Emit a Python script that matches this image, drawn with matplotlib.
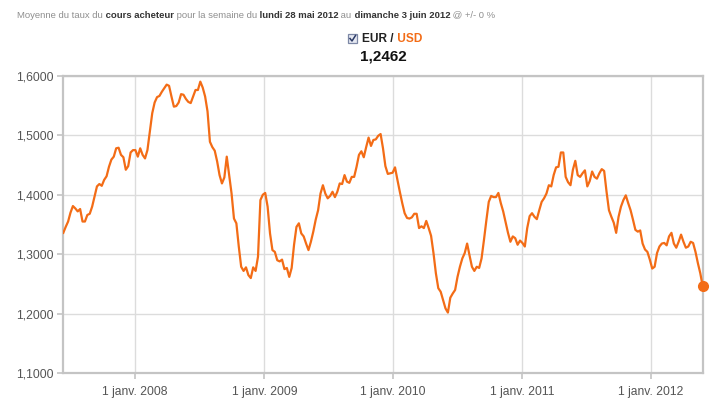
import matplotlib
matplotlib.use('Agg')
import matplotlib.pyplot as plt
from matplotlib.ticker import FuncFormatter, FixedLocator
from matplotlib.patches import Rectangle
from matplotlib.lines import Line2D
import matplotlib.dates as mdates
import pandas as pd

plt.rcParams['font.family'] = ['Liberation Sans', 'DejaVu Sans']

start_date = '2007-06-11'
end_date = '2012-05-28'

rates_2007_2009 = [
    1.336, 1.346, 1.355, 1.370, 1.381, 1.377, 1.372, 1.376, 1.355, 1.355,
    1.366, 1.368, 1.380, 1.397, 1.414, 1.418, 1.415, 1.425, 1.431, 1.447,
    1.459, 1.464, 1.478, 1.479, 1.467, 1.463, 1.442, 1.448, 1.471, 1.475,
    1.475, 1.464, 1.478, 1.467, 1.461, 1.475, 1.506, 1.537, 1.555, 1.564,
    1.566, 1.573, 1.579, 1.585, 1.583, 1.565, 1.548, 1.549, 1.555, 1.569,
    1.568, 1.561, 1.556, 1.554, 1.565, 1.576, 1.576, 1.590, 1.580, 1.565,
    1.540, 1.489, 1.480, 1.474, 1.456, 1.433, 1.419, 1.429, 1.464, 1.433,
    1.402, 1.360, 1.352, 1.313, 1.279, 1.272, 1.278, 1.265, 1.260, 1.278,
    1.272, 1.296, 1.391, 1.400, 1.403, 1.380, 1.335, 1.307, 1.304, 1.290,
    1.288, 1.291, 1.275, 1.277, 1.262, 1.277, 1.316, 1.346, 1.352, 1.335,
    1.330, 1.318, 1.307, 1.321, 1.338, 1.358, 1.374, 1.402, 1.416, 1.402,
    1.394, 1.398, 1.405, 1.396, 1.405, 1.419, 1.418, 1.433, 1.422, 1.420,
    1.430, 1.430, 1.447, 1.467, 1.473, 1.463,
]

rates_2009_2012 = [
    1.480, 1.496, 1.482, 1.492, 1.493, 1.499, 1.502, 1.478, 1.448, 1.435,
    1.436, 1.437, 1.446, 1.425, 1.405, 1.386, 1.369, 1.361, 1.360, 1.362,
    1.368, 1.368, 1.344, 1.347, 1.344, 1.356, 1.344, 1.331, 1.302, 1.268,
    1.243, 1.237, 1.223, 1.209, 1.202, 1.227, 1.234, 1.240, 1.262, 1.279,
    1.293, 1.302, 1.318, 1.298, 1.279, 1.272, 1.279, 1.277, 1.293, 1.324,
    1.357, 1.388, 1.398, 1.396, 1.396, 1.403, 1.386, 1.372, 1.354, 1.336,
    1.321, 1.330, 1.327, 1.316, 1.323, 1.319, 1.313, 1.344, 1.364, 1.369,
    1.363, 1.359, 1.374, 1.388, 1.394, 1.402, 1.416, 1.414, 1.433, 1.446,
    1.447, 1.471, 1.471, 1.430, 1.421, 1.416, 1.442, 1.457, 1.433, 1.430,
    1.436, 1.441, 1.414, 1.423, 1.439, 1.430, 1.427, 1.436, 1.443, 1.440,
    1.405, 1.374, 1.363, 1.353, 1.336, 1.363, 1.380, 1.391, 1.399, 1.386,
    1.374, 1.358, 1.341, 1.338, 1.340, 1.318, 1.308, 1.304, 1.291, 1.276,
    1.279, 1.302, 1.313, 1.318, 1.319, 1.315, 1.330, 1.336, 1.318, 1.311,
    1.321, 1.333, 1.321, 1.311, 1.313, 1.321, 1.319, 1.304, 1.285, 1.268,
    1.2462,
]

y_ticks = [1.1, 1.2, 1.3, 1.4, 1.5, 1.6]
x_tick_dates = ['2008-01-01', '2009-01-01', '2010-01-01', '2011-01-01', '2012-01-01']
x_tick_labels = ['1 janv. 2008', '1 janv. 2009', '1 janv. 2010', '1 janv. 2011', '1 janv. 2012']

header_parts = [
    ("Moyenne du taux du", False),
    (" cours acheteur", True),
    (" pour la semaine du", False),
    (" lundi 28 mai 2012", True),
    (" au", False),
    (" dimanche 3 juin 2012", True),
    (" @ +/- 0 %", False),
]
pair_base = "EUR /"
pair_quote = " USD"
last_value_label = "1,2462"

values = rates_2007_2009 + rates_2009_2012
dates = pd.date_range(start_date, end_date, periods=len(values))

W, H = 717, 411
fig = plt.figure(figsize=(W / 100, H / 100), dpi=100)
L, R, T, B = 63.3, 702.7, 75.7, 373.3
ax = fig.add_axes([L / W, 1 - B / H, (R - L) / W, (B - T) / H])

orange = '#f36c16'
ax.plot(dates, values, color=orange, lw=1.6, solid_joinstyle='round', zorder=3)
ax.plot([dates[-1]], [values[-1]], 'o', color=orange, ms=7, clip_on=False, zorder=4)

ax.set_xlim(dates[0], dates[-1])
ax.set_ylim(1.1, 1.6)
ax.yaxis.set_major_locator(FixedLocator(y_ticks))
ax.yaxis.set_major_formatter(FuncFormatter(lambda v, p: f"{v:.4f}".replace('.', ',')))
xt = [mdates.date2num(pd.Timestamp(d)) for d in x_tick_dates]
ax.set_xticks(xt)
ax.set_xticklabels(x_tick_labels)

ax.grid(True, color='#dcdcdc', lw=1.0)
ax.set_axisbelow(True)
for s in ax.spines.values():
    s.set_color('#c4c4c4')
    s.set_linewidth(1.6)
ax.tick_params(axis='both', colors='#c4c4c4', labelcolor='#555555', labelsize=8.7,
               length=4, width=1.2)
ax.tick_params(axis='y', pad=3)
ax.tick_params(axis='x', pad=5)

# header text chain
prev = None
for txt, bold in header_parts:
    kw = dict(fontsize=6.8, fontweight='bold' if bold else 'normal',
              color='#333333' if bold else '#8f8f8f')
    if prev is None:
        prev = fig.text(17 / W, 1 - 15 / H, txt, ha='left', va='center', **kw)
    else:
        prev = ax.annotate(txt, xy=(1, 0), xycoords=prev, ha='left', va='bottom',
                           annotation_clip=False, **kw)

# checkbox
cb_x, cb_y, cb_s = 348, 34, 9
fig.add_artist(Rectangle((cb_x / W, 1 - (cb_y + cb_s) / H), cb_s / W, cb_s / H,
                         transform=fig.transFigure, facecolor='#e6e9f2',
                         edgecolor='#7d88a6', lw=0.9))
fig.add_artist(Line2D([(cb_x + 2) / W, (cb_x + 4) / W, (cb_x + 7.5) / W],
                      [1 - (cb_y + 4.5) / H, 1 - (cb_y + 7) / H, 1 - (cb_y + 1.5) / H],
                      transform=fig.transFigure, color='#2b3a66', lw=1.1))

t1 = fig.text(362 / W, 1 - 38.5 / H, pair_base, ha='left', va='center',
              fontsize=8.6, fontweight='bold', color='#222222')
ax.annotate(pair_quote, xy=(1, 0), xycoords=t1, ha='left', va='bottom',
            fontsize=8.6, fontweight='bold', color=orange, annotation_clip=False)
fig.text(383 / W, 1 - 56.5 / H, last_value_label, ha='center', va='center',
         fontsize=11, fontweight='bold', color='#111111')

fig.savefig('out.png', dpi=100)
